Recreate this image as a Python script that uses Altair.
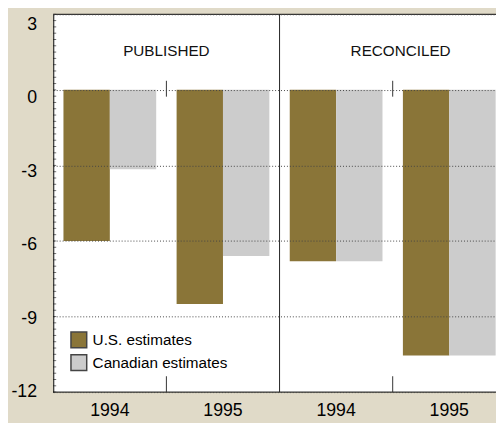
import altair as alt
import pandas as pd

# ---- data ----
panels = ["PUBLISHED", "PUBLISHED", "RECONCILED", "RECONCILED"]
years = ["1994", "1995", "1994", "1995"]
us_estimates = [-6.0, -8.5, -6.8, -10.55]
canadian_estimates = [-3.15, -6.6, -6.8, -10.55]
series_names = ["U.S. estimates", "Canadian estimates"]
series_colors = ["#8A7538", "#CCCCCC"]
y_tick_values = [3, 0, -3, -6, -9, -12]
panel_titles = ["PUBLISHED", "RECONCILED"]

NARROW = "Liberation Sans, Arial, sans-serif"
NARROW_SIZE = 15.5
REGULAR = "Liberation Sans, Arial, sans-serif"
BG = "#E0DAC8"

groups = [f"{p}-{y}" for p, y in zip(panels, years)]
rows = []
for g, u, c in zip(groups, us_estimates, canadian_estimates):
    rows.append({"group": g, "series": series_names[0], "value": u})
    rows.append({"group": g, "series": series_names[1], "value": c})
bars_df = pd.DataFrame(rows)

# the right panel runs past the visible edge, as in the reference
x_scale = alt.Scale(domain=groups, paddingInner=0, paddingOuter=0, range=[0, 460])
y_scale = alt.Scale(domain=[-12, 3], nice=False, zero=False)

bars = alt.Chart(bars_df).mark_bar().encode(
    x=alt.X("group:N", scale=x_scale, sort=groups, title=None,
            axis=alt.Axis(title=None, ticks=False, domain=False, labelAngle=0,
                          labelExpr="split(datum.value, '-')[1]",
                          labelFont=REGULAR, labelFontSize=18, labelColor="black",
                          labelPadding=10)),
    xOffset=alt.XOffset("series:N", sort=series_names,
                        scale=alt.Scale(paddingInner=0, paddingOuter=0.22)),
    y=alt.Y("value:Q", scale=y_scale, title=None,
            axis=alt.Axis(values=y_tick_values, title=None, ticks=False, labels=False,
                          domainColor="black", domainWidth=1,
                          grid=True, gridDash=[1, 2], gridColor="#444", gridWidth=1,
                          zindex=1)),
    y2=alt.datum(0),
    color=alt.Color("series:N", sort=series_names,
                    scale=alt.Scale(domain=series_names, range=series_colors),
                    legend=alt.Legend(title=None, orient="none", legendX=17, legendY=322,
                                      symbolType="square", symbolSize=256,
                                      symbolStrokeColor="#444", symbolStrokeWidth=1.5,
                                      symbolOpacity=1,
                                      labelFont=NARROW, labelFontSize=NARROW_SIZE,
                                      labelColor="black", labelOffset=5,
                                      rowPadding=1, padding=0)),
)

# frame (top and bottom)
frame = alt.Chart(pd.DataFrame({"value": [3, -12]})).mark_rule(color="black", strokeWidth=1).encode(
    y=alt.Y("value:Q", title=None)
)

# divider between panels
divider = alt.Chart(pd.DataFrame({"group": [groups[1]]})).mark_rule(
    color="#222", strokeWidth=1).encode(
    x=alt.X("group:N", bandPosition=1, title=None)
)

tick_df = pd.DataFrame({"group": [groups[0], groups[2]]})
top_ticks = alt.Chart(tick_df).mark_rule(color="#333", strokeWidth=1).encode(
    x=alt.X("group:N", bandPosition=1, title=None),
    y=alt.datum(0.36),
    y2=alt.datum(-0.27),
)
bottom_ticks = alt.Chart(tick_df).mark_rule(color="#333", strokeWidth=1).encode(
    x=alt.X("group:N", bandPosition=1, title=None),
    y=alt.datum(-12),
    y2=alt.datum(-11.37),
)

# minor ticks on the inside of the left axis
minor_df = pd.DataFrame({"value": [-12 + 0.25 * i for i in range(61)]})
minor = alt.Chart(minor_df).mark_tick(color="#333", size=3, thickness=1).encode(
    y=alt.Y("value:Q", title=None),
    x=alt.value(1.5),
)

title_df = pd.DataFrame({"group": [groups[0], groups[3]], "label": panel_titles})
titles_pub = alt.Chart(title_df.iloc[[0]]).mark_text(
    font=NARROW, fontSize=NARROW_SIZE, color="#111", baseline="middle", align="center").encode(
    x=alt.X("group:N", bandPosition=1, title=None),
    y=alt.datum(1.52),
    text="label:N",
)
titles_rec = alt.Chart(title_df.iloc[[1]]).mark_text(
    font=NARROW, fontSize=NARROW_SIZE, color="#111", baseline="middle", align="center").encode(
    x=alt.X("group:N", bandPosition=0.07, title=None),
    y=alt.datum(1.52),
    text="label:N",
)

plot = alt.layer(bars, frame, divider, top_ticks, bottom_ticks, minor, titles_pub, titles_rec)

# y labels: in the reference they sit slightly below their grid lines,
# on a scale a little tighter than the grid's
label_df = pd.DataFrame({"value": y_tick_values})
y_labels = alt.Chart(label_df).mark_point(opacity=0).encode(
    y=alt.Y("value:Q", scale=alt.Scale(domain=[-12.02, 3.4], nice=False, zero=False),
            axis=alt.Axis(orient="left", values=y_tick_values, title=None, ticks=False,
                          domain=False, grid=False, labelExpr="'' + datum.value",
                          labelFont=REGULAR, labelFontSize=18, labelColor="black",
                          labelPadding=17)),
)

chart = alt.layer(plot, y_labels).resolve_scale(y="independent").properties(
    width=450,
    height=384,
    padding={"left": 46, "top": 3, "right": 0, "bottom": 28},
    autosize="none",
    background=BG,
).configure_view(stroke=None, fill="white")

chart.save("out.html", embed_options={"renderer": "svg", "actions": False})
